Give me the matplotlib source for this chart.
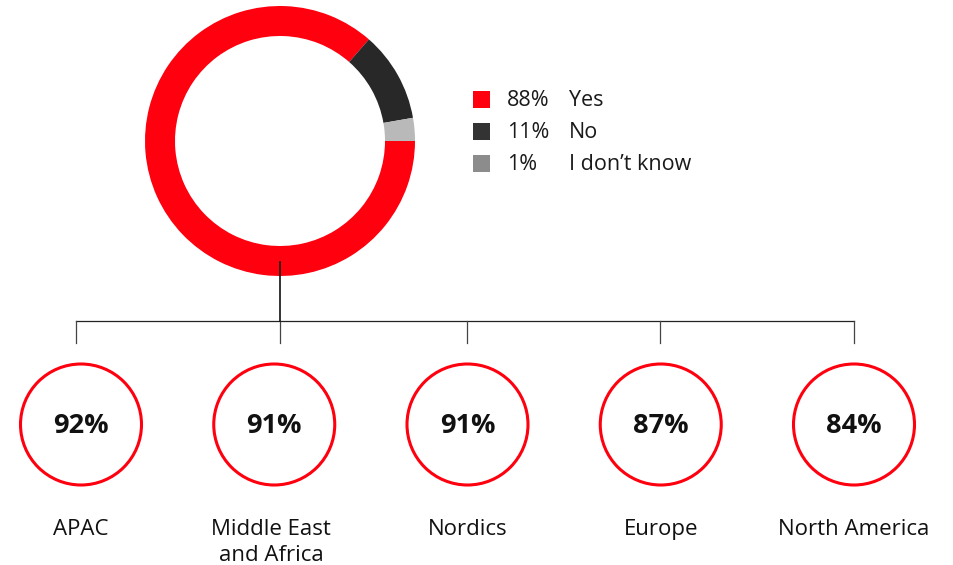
import numpy as np
import matplotlib
matplotlib.use('Agg')
import matplotlib.pyplot as plt
from matplotlib.patches import Circle, Rectangle

plt.rcParams['font.family'] = ['Open Sans', 'DejaVu Sans']

# overall answer
answers = ['Yes', 'No', 'I don\u2019t know']
shares = [88, 11, 1]
pct_labels = ['88%', '11%', '1%']
slice_colors = ['#ff000f', '#282828', '#b8b9b8']
legend_colors = ['#ff000f', '#333333', '#8c8c8c']

# by region
regions = ['APAC', 'Middle East\nand Africa', 'Nordics', 'Europe', 'North America']
region_vals = [92, 91, 91, 87, 84]

W, H = 954, 565
fig = plt.figure(figsize=(W / 100, H / 100), dpi=100)
ax = fig.add_axes([0, 0, 1, 1])

# donut (y axis is flipped below, so counterclock=True reads clockwise on screen)
cx, cy, R = 280, 141, 135
shown = np.maximum(shares, 2.8)  # keep tiny slice visible like the original
ax.pie(shown, colors=slice_colors, startangle=0, counterclock=True,
       radius=R, center=(cx, cy), wedgeprops=dict(width=30, linewidth=0))

# legend
for i, (lab, pct, col) in enumerate(zip(answers, pct_labels, legend_colors)):
    y = 99 + i * 32
    ax.add_patch(Rectangle((473, y - 8.5), 17, 17, color=col, lw=0))
    ax.text(507, y + 1, pct, fontsize=15.5, va='center', ha='left', color='#1a1a1a')
    ax.text(569, y + 1, lab, fontsize=15.5, va='center', ha='left', color='#1a1a1a')

# tree connector
tick_x = [76, 280, 467, 660, 854]
bar_y = 321
ax.plot([cx, cx], [262, bar_y], color='#111111', lw=1.2, zorder=5)
ax.plot([tick_x[0], tick_x[-1]], [bar_y, bar_y], color='#222222', lw=0.9)
for tx in tick_x:
    ax.plot([tx, tx], [bar_y, 343], color='#444444', lw=0.9)

# region circles
circ_x = np.linspace(81, 854, len(regions))
for x, name, v in zip(circ_x, regions, region_vals):
    ax.add_patch(Circle((x, 424.5), 60.5, fill=False, edgecolor='#ff000f', lw=2.2))
    ax.text(x, 426, f'{v}%', fontsize=19.5, fontweight='bold', ha='center', va='center',
            color='#111111')
    ax.text(x - (3 if '\n' in name else 0), 519, name, fontsize=16, ha='center', va='top',
            linespacing=1.3, color='#111111')

ax.set_xlim(0, W)
ax.set_ylim(H, 0)
ax.set_aspect('equal')
ax.axis('off')

plt.savefig('out.png', dpi=100)
plt.close('all')
